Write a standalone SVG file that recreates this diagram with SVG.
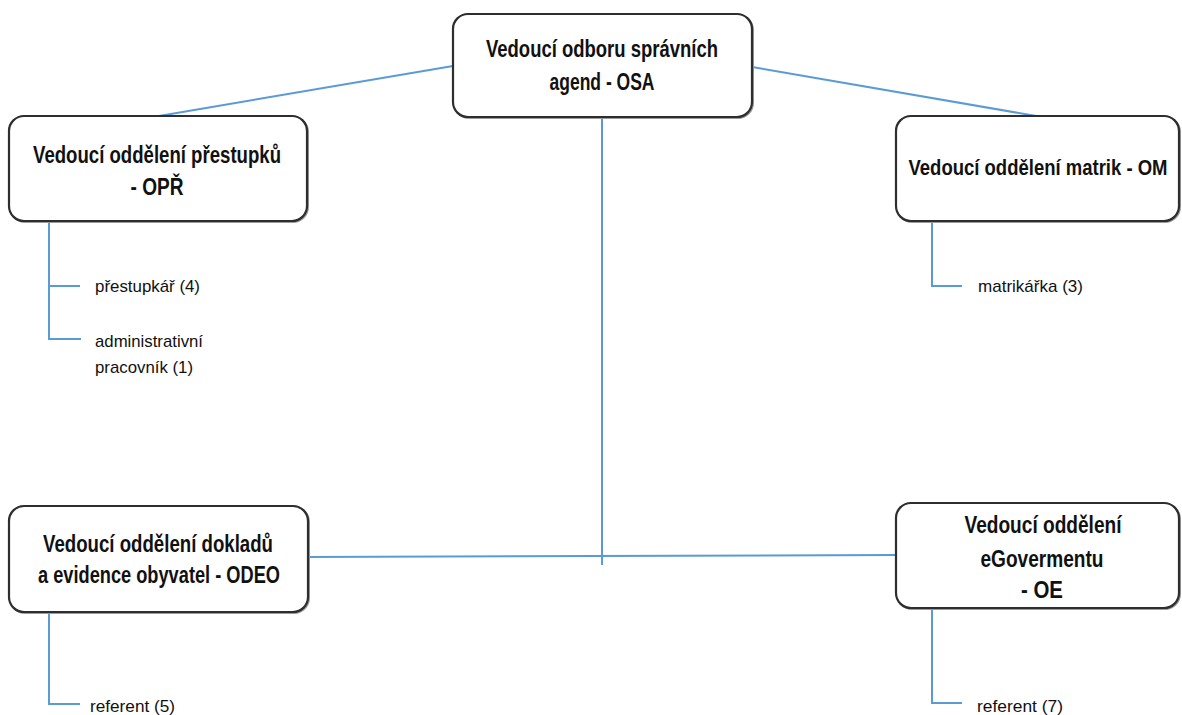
<svg xmlns="http://www.w3.org/2000/svg" width="1182" height="715" viewBox="0 0 1182 715">
  <style>
    .box { fill: #ffffff; stroke: #2e2e2e; stroke-width: 2.2; }
    .shadow { fill: none; stroke: #9a9a9a; stroke-width: 2; }
    .head { font-family: "Liberation Sans", Arial, sans-serif; font-weight: bold; font-size: 23px; fill: #111111; text-anchor: middle; }
    .sub { font-family: "Liberation Sans", Arial, sans-serif; font-size: 17px; fill: #111111; }
    .link { fill: none; stroke: #5b9bd5; stroke-width: 2; }
  </style>
  <rect width="1182" height="715" fill="#ffffff"/>

  <!-- connectors -->
  <g id="connectors">
    <line class="link" x1="453" y1="66" x2="159" y2="116"/>
    <line class="link" x1="752" y1="67" x2="1042" y2="117"/>
    <line class="link" x1="602" y1="117" x2="602" y2="565"/>
    <line class="link" x1="307" y1="557" x2="897" y2="555"/>
    <polyline class="link" points="49,221 49,339 81,339"/>
    <line class="link" x1="49" y1="286" x2="80" y2="286"/>
    <polyline class="link" points="932,221 932,286 962,286"/>
    <polyline class="link" points="49,612 49,704 80,704"/>
    <polyline class="link" points="932,608 932,703 962,703"/>
  </g>

  <!-- head of department -->
  <g id="osa">
    <rect class="shadow" x="454" y="15" width="299" height="103" rx="15"/>
    <rect class="box" x="453" y="14" width="299" height="103" rx="15"/>
    <text class="head" x="602" y="57" textLength="232" lengthAdjust="spacingAndGlyphs">Vedoucí odboru správních</text>
    <text class="head" x="602" y="90" textLength="105" lengthAdjust="spacingAndGlyphs">agend - OSA</text>
  </g>

  <!-- offences department -->
  <g id="opr">
    <rect class="shadow" x="10" y="117" width="298" height="105" rx="15"/>
    <rect class="box" x="9" y="116" width="298" height="105" rx="15"/>
    <text class="head" x="157" y="163" textLength="248" lengthAdjust="spacingAndGlyphs">Vedoucí oddělení přestupků</text>
    <text class="head" x="157" y="195" textLength="53" lengthAdjust="spacingAndGlyphs">- OPŘ</text>
  </g>

  <!-- registry department: smaller face stretched vertically so the long label stays inside the box -->
  <g id="om">
    <rect class="shadow" x="897" y="117" width="283" height="105" rx="15"/>
    <rect class="box" x="896" y="116" width="283" height="105" rx="15"/>
    <g transform="translate(0,175) scale(1,1.243)">
      <text class="head" x="1038" y="0" style="font-size:18.5px" textLength="259" lengthAdjust="spacingAndGlyphs">Vedoucí oddělení matrik - OM</text>
    </g>
  </g>

  <!-- documents and population records department -->
  <g id="odeo">
    <rect class="shadow" x="10" y="507" width="299" height="106" rx="15"/>
    <rect class="box" x="9" y="506" width="299" height="106" rx="15"/>
    <text class="head" x="158" y="552" textLength="230" lengthAdjust="spacingAndGlyphs">Vedoucí oddělení dokladů</text>
    <text class="head" x="159" y="583" textLength="242" lengthAdjust="spacingAndGlyphs">a evidence obyvatel - ODEO</text>
  </g>

  <!-- eGovernment department -->
  <g id="oe">
    <rect class="shadow" x="897" y="504" width="283" height="105" rx="15"/>
    <rect class="box" x="896" y="503" width="283" height="105" rx="15"/>
    <text class="head" x="1043" y="533" textLength="157" lengthAdjust="spacingAndGlyphs">Vedoucí oddělení</text>
    <text class="head" x="1042" y="567" textLength="123" lengthAdjust="spacingAndGlyphs">eGovermentu</text>
    <text class="head" x="1042" y="598" textLength="42" lengthAdjust="spacingAndGlyphs">- OE</text>
  </g>

  <!-- staff -->
  <g id="staff-opr">
    <text class="sub" x="95" y="292" textLength="105" lengthAdjust="spacingAndGlyphs">přestupkář (4)</text>
    <text class="sub" x="95" y="347" textLength="108" lengthAdjust="spacingAndGlyphs">administrativní</text>
    <text class="sub" x="95" y="373" textLength="98" lengthAdjust="spacingAndGlyphs">pracovník (1)</text>
  </g>
  <g id="staff-om">
    <text class="sub" x="978" y="292" textLength="105" lengthAdjust="spacingAndGlyphs">matrikářka  (3)</text>
  </g>
  <g id="staff-odeo">
    <text class="sub" x="90" y="712" textLength="85" lengthAdjust="spacingAndGlyphs">referent  (5)</text>
  </g>
  <g id="staff-oe">
    <text class="sub" x="977" y="712" textLength="86" lengthAdjust="spacingAndGlyphs">referent  (7)</text>
  </g>
</svg>
